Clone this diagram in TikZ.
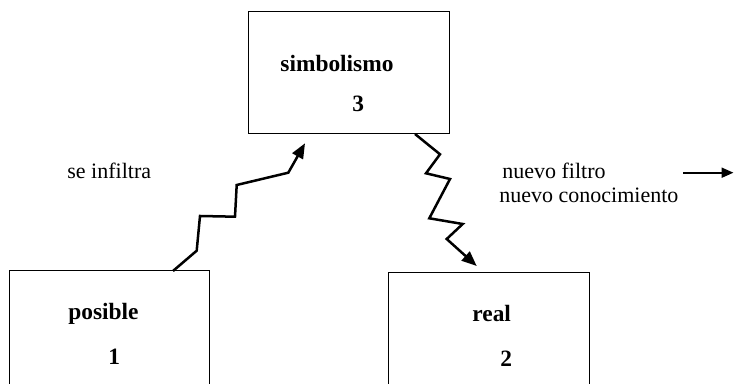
\documentclass[tikz,border=0pt]{standalone}
\usepackage{fontspec}
\setmainfont{Liberation Serif}
\usetikzlibrary{arrows.meta, calc, positioning}

\begin{document}
\begin{tikzpicture}[x=0.5pt, y=-0.5pt,
  box/.style={draw, line width=0.5pt, inner sep=0pt, outer sep=0pt, anchor=north west},
  lbl/.style={anchor=base west, inner sep=0pt, font=\fontsize{11.7}{14}\selectfont\bfseries},
  txt/.style={anchor=base west, inner sep=0pt, font=\fontsize{11}{13}\selectfont},
  zig/.style={line width=1.25pt, line join=miter, -{Triangle[length=7.5pt, width=6pt]}}]
  % frame of the page
  \clip (0,0) rectangle (735,384);

  % Boxes
  \node[box, minimum width=100.5pt, minimum height=61pt] (simb) at (248,12) {};
  \node[box, minimum width=100pt, minimum height=80pt] (posible) at (9,271) {};
  \node[box, minimum width=100.5pt, minimum height=80pt] (real) at (388,273) {};

  % Box labels
  \node[lbl] (simbTxt) at (280,72) {simbolismo};
  \node[lbl] (simbNum) at (352,112) {3};
  \node[lbl] (posTxt) at (68,320) {posible};
  \node[lbl] (posNum) at (108,365) {1};
  \node[lbl] (realTxt) at (472,322) {real};
  \node[lbl] (realNum) at (500,367) {2};

  % Side texts
  \node[txt] (infiltra) at (67,179) {se infiltra};
  \node[txt] (filtro) at (502,179) {nuevo filtro};
  \node[txt] (conoc) at (499,203) {nuevo conocimiento};

  % Zigzag arrows
  \coordinate (infTip) at (305,143.3);
  \draw[zig] ($(posible.north west)+(164,0)$) -- (196.7,250.7) -- (200,216)
    -- (235,216.7) -- (236.7,185) -- (288.3,172.7) -- (infTip);
  \coordinate (realTip) at (476.7,266);
  \draw[zig] ($(simb.south west)+(167,0)$) -- (440,154.3) -- (426,173.3)
    -- (450,179) -- (429.3,218.3) -- (462.7,224) -- (446.7,239) -- (realTip);

  % Right arrow
  \coordinate (outA) at (683,172.7);
  \coordinate (outB) at (733.5,172.7);
  \draw[line width=1pt, -{Triangle[length=6pt, width=5pt]}] (outA) -- (outB);
\end{tikzpicture}
\end{document}
